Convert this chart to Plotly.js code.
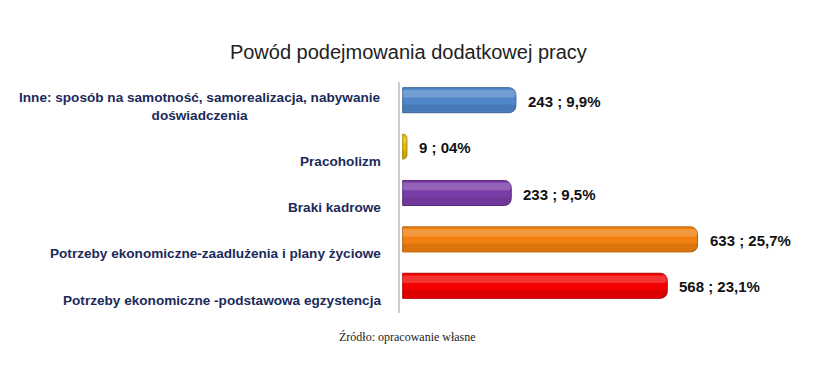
<!DOCTYPE html>
<html>
<head>
<meta charset="utf-8">
<script src="https://cdn.plot.ly/plotly-3.0.1.min.js"></script>
<style>html,body{margin:0;padding:0;background:#fff;}#chart{width:830px;height:373px;}</style>
</head>
<body>
<div id="chart"></div>
<script>
var categories = [
  "Inne: sposób na samotność, samorealizacja, nabywanie<br>doświadczenia",
  "Pracoholizm",
  "Braki kadrowe",
  "Potrzeby ekonomiczne-zaadlużenia i plany życiowe",
  "Potrzeby ekonomiczne -podstawowa egzystencja"
];
var counts = [243, 9, 233, 633, 568];
var valueLabels = ["243 ; 9,9%", "9 ; 04%", "233 ; 9,5%", "633 ; 25,7%", "568 ; 23,1%"];
var barColors = ["#4F86C9", "#E6B800", "#7A3DA8", "#F2800F", "#F20000"];
var edgeColors = ["#3A6696", "#A88600", "#552878", "#B65E08", "#B00000"];

var labelFont = "'Liberation Sans',Arial,sans-serif";

var annotations = [];
categories.forEach(function (c, i) {
  var nLines = c.split("<br>").length;
  annotations.push({
    xref: "paper", yref: "y", x: 0, y: c,
    xanchor: "right", yanchor: "middle", align: "center",
    xshift: -16, yshift: -(14.5 - (nLines - 1) * 8),
    text: c, showarrow: false,
    font: {family: labelFont, size: 13.6, color: "#1B2A5A", weight: "bold"}
  });
  annotations.push({
    xref: "x", yref: "y", x: counts[i], y: c,
    xanchor: "left", yanchor: "middle",
    xshift: 10, yshift: -1, text: valueLabels[i], showarrow: false,
    font: {family: labelFont, size: 15, color: "#111111", weight: "bold"}
  });
});
annotations.push({
  xref: "paper", yref: "paper", x: 0.02, y: 0, yshift: -28,
  xanchor: "center", yanchor: "middle",
  text: "Źródło: opracowanie własne", showarrow: false,
  font: {family: "'Liberation Serif','Times New Roman',serif", size: 12, color: "#222"}
});

var base = {
  type: "bar", orientation: "h",
  y: categories, x: counts,
  width: 0.54,
  marker: {color: barColors, line: {color: edgeColors, width: 1}, cornerradius: 7},
  hoverinfo: "none"
};
var shade = {
  type: "bar", orientation: "h",
  y: categories, x: counts,
  width: 0.16, offset: 0.09,
  marker: {color: "rgba(0,0,0,0.09)", line: {width: 0}, cornerradius: 4},
  hoverinfo: "none"
};
var highlight = {
  type: "bar", orientation: "h",
  y: categories, x: counts,
  width: 0.16, offset: -0.22,
  marker: {color: "rgba(255,255,255,0.2)", line: {width: 0}, cornerradius: 4},
  hoverinfo: "none"
};

var layout = {
  width: 830, height: 373,
  margin: {l: 399, r: 30, t: 77, b: 64},
  barmode: "overlay",
  paper_bgcolor: "#ffffff", plot_bgcolor: "#ffffff",
  title: {
    text: "Powód podejmowania dodatkowej pracy",
    x: 0.492, xanchor: "center", y: 0.86, yanchor: "middle",
    font: {family: "'Liberation Sans',Arial,sans-serif", size: 20, color: "#222222"}
  },
  showlegend: false,
  xaxis: {range: [-8, 853], showgrid: false, zeroline: false, showline: false, showticklabels: false, ticks: ""},
  yaxis: {range: [4.5, -0.5], showline: false, showticklabels: false, ticks: "", showgrid: false, zeroline: false},
  shapes: [{
    type: "line", xref: "paper", yref: "paper",
    x0: 0, x1: 0, y0: -0.017, y1: 0.978,
    line: {color: "#9a9a9a", width: 1}
  }],
  annotations: annotations
};

Plotly.newPlot("chart", [base, shade, highlight], layout, {displayModeBar: false, staticPlot: true});
</script>
</body>
</html>
